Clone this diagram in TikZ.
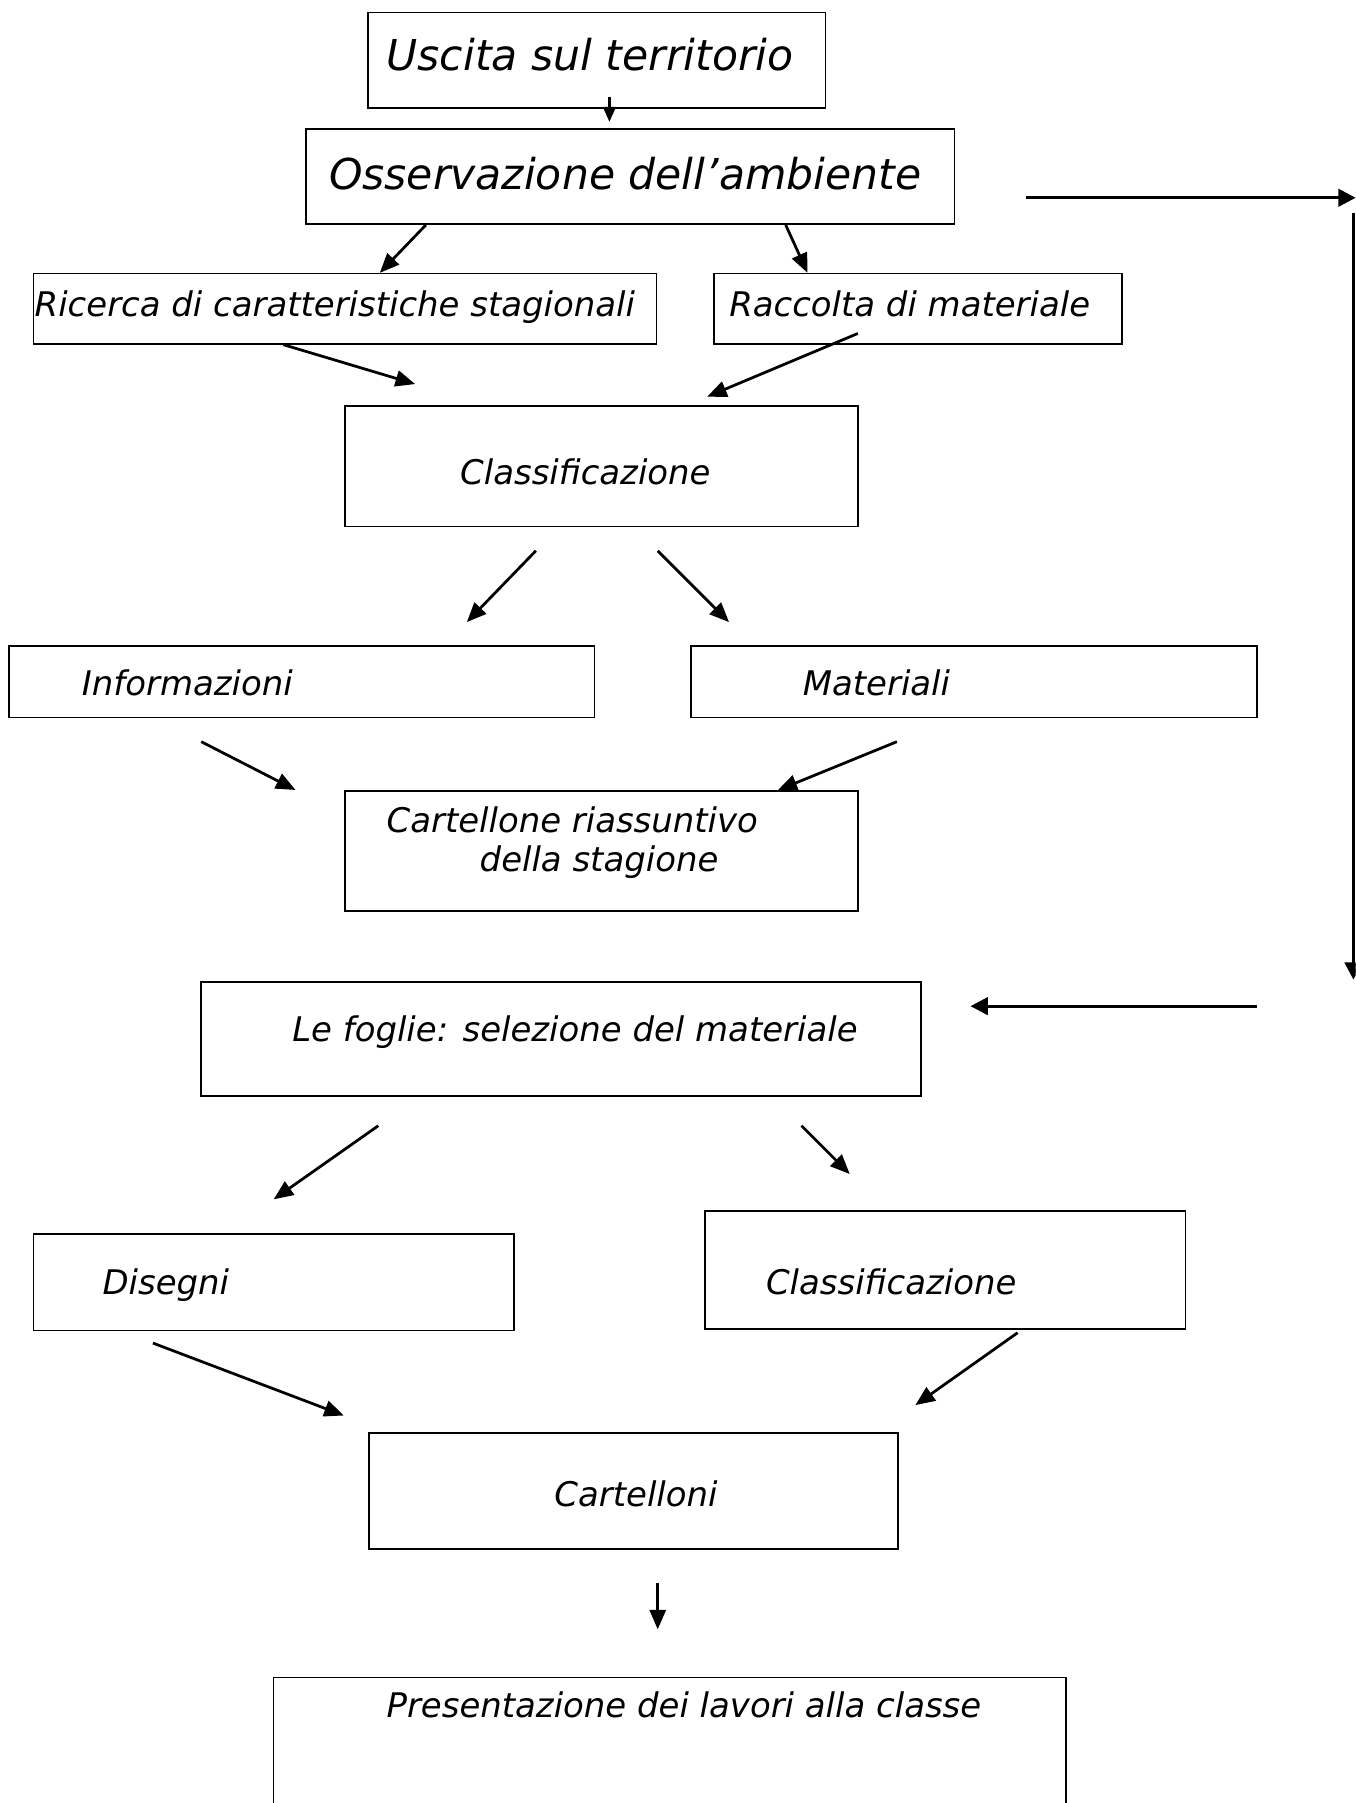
\documentclass[tikz,border=0pt]{standalone}
\usepackage{fontspec}
\setmainfont{DejaVu Sans}
\usetikzlibrary{arrows.meta,calc}

\tikzset{
  box/.style={draw, line width=1.4pt, inner sep=0pt},
  txt/.style={anchor=base west, inner sep=0pt, font=\fontsize{29.5}{35}\selectfont\itshape},
  bigtxt/.style={anchor=base west, inner sep=0pt, font=\fontsize{37}{44}\selectfont\itshape},
  arr/.style={line width=2.4pt, -{Triangle[length=17pt,width=14pt]}},
  longarr/.style={line width=2.8pt, -{Triangle[length=15pt,width=15pt]}},
}

\begin{document}
\begin{tikzpicture}[x=1pt,y=1pt,yscale=-1,xscale=1]
\useasboundingbox (0,0) rectangle (1179,1568);
\clip (0,0) rectangle (1179,1568);

%Boxes
\node[box, minimum width=398, minimum height=83] (uscita) at (519,52.5) {};
\node[box, minimum width=564, minimum height=83] (osserv) at (548,153.5) {};
\node[box, minimum width=542, minimum height=61] (ricerca) at (300,268.5) {};
\node[box, minimum width=355, minimum height=61] (raccolta) at (798.5,268.5) {};
\node[box, minimum width=446, minimum height=105] (classif) at (523,405.5) {};
\node[box, minimum width=509, minimum height=62] (inform) at (262.5,593) {};
\node[box, minimum width=492, minimum height=62] (materiali) at (847,593) {};
\node[box, minimum width=446, minimum height=104] (cartellone) at (523,740) {};
\node[box, minimum width=626, minimum height=99] (foglie) at (488,903.5) {};
\node[box, minimum width=418, minimum height=84] (disegni) at (238,1115) {};
\node[box, minimum width=418, minimum height=103] (classifB) at (822,1104.5) {};
\node[box, minimum width=460, minimum height=101] (cartelloni) at (551,1296.5) {};
\node[box, minimum width=689, minimum height=161] (present) at (582.5,1539.5) {};

% Text Node
\node[bigtxt] (uscitaT) at (336,61) {Uscita sul territorio};
\node[bigtxt] (osservT) at (286,165) {Osservazione dell’ambiente};
\node[txt] (ricercaT) at (30,275) {Ricerca di caratteristiche stagionali};
\node[txt] (raccoltaT) at (634,275) {Raccolta di materiale};
\node[txt] (classifT) at (400,421) {Classificazione};
\node[txt] (informT) at (71,605) {Informazioni};
\node[txt] (materialiT) at (698,605) {Materiali};
\node[txt] (cartelloneT) at (336,724) {Cartellone riassuntivo};
\node[txt] (stagioneT) at (417,758) {della stagione};
\node[txt] (foglieT) at (254,906) {Le foglie: selezione del materiale};
\node[txt] (disegniT) at (89,1126) {Disegni};
\node[txt] (classifBT) at (666,1126) {Classificazione};
\node[txt] (cartelloniT) at (482,1310) {Cartelloni};
\node[txt] (presentT) at (336,1494) {Presentazione dei lavori alla classe};

%Arrow ends
\coordinate (uscitaA) at (530,84);
\coordinate (osservA) at (530,106);
\coordinate (ricercaB) at (361,334);
\coordinate (raccoltaA) at (746,290);
\coordinate (raccoltaB) at (615,345);
\coordinate (classifA) at (466,479);
\coordinate (classifB1) at (572,479);
\coordinate (informA) at (406,541);
\coordinate (materialiA) at (634,541);
\coordinate (informB) at (175,645);
\coordinate (materialiB) at (780,645);
\coordinate (cartelloneA) at (257,687);
\coordinate (foglieA) at (329,979);
\coordinate (foglieB) at (697,979);
\coordinate (disegniA) at (238,1043);
\coordinate (classifBA) at (739,1021);
\coordinate (disegniB) at (133,1168);
\coordinate (classifBB) at (885,1159);
\coordinate (cartelloniA) at (299,1231);
\coordinate (cartelloniB) at (796,1222);
\coordinate (cartelloniC) at (572,1377);
\coordinate (presentA) at (572,1417);
\coordinate (lateralA) at (892,172);
\coordinate (lateralB) at (1179,172);
\coordinate (lateralC) at (1177,185);
\coordinate (lateralD) at (1177,852);
\coordinate (lateralE) at (1093,875);
\coordinate (lateralF) at (844,875);

%Arrows
\draw[arr, line width=2pt, -{Triangle[length=13pt,width=11pt]}] (uscitaA) -- (osservA);
\draw[arr] ($(osserv.south west)+(105,0)$) -- ($(ricerca.north west)+(302,0)$);
\draw[arr] ($(osserv.south west)+(418,0)$) -- ($(raccolta.north west)+(82,0)$);
\draw[arr] ($(ricerca.south west)+(218,0)$) -- (ricercaB);
\draw[arr] (raccoltaA) -- (raccoltaB);
\draw[arr] (classifA) -- (informA);
\draw[arr] (classifB1) -- (materialiA);
\draw[arr] (informB) -- (cartelloneA);
\draw[arr] (materialiB) -- ($(cartellone.north west)+(377,0)$);
\draw[arr] (foglieA) -- (disegniA);
\draw[arr] (foglieB) -- (classifBA);
\draw[arr] (disegniB) -- (cartelloniA);
\draw[arr] (classifBB) -- (cartelloniB);
\draw[arr] (cartelloniC) -- (presentA);

%Side path
\draw[longarr] (lateralA) -- (lateralB);
\draw[longarr] (lateralC) -- (lateralD);
\draw[longarr] (lateralE) -- (lateralF);

\end{tikzpicture}
\end{document}
